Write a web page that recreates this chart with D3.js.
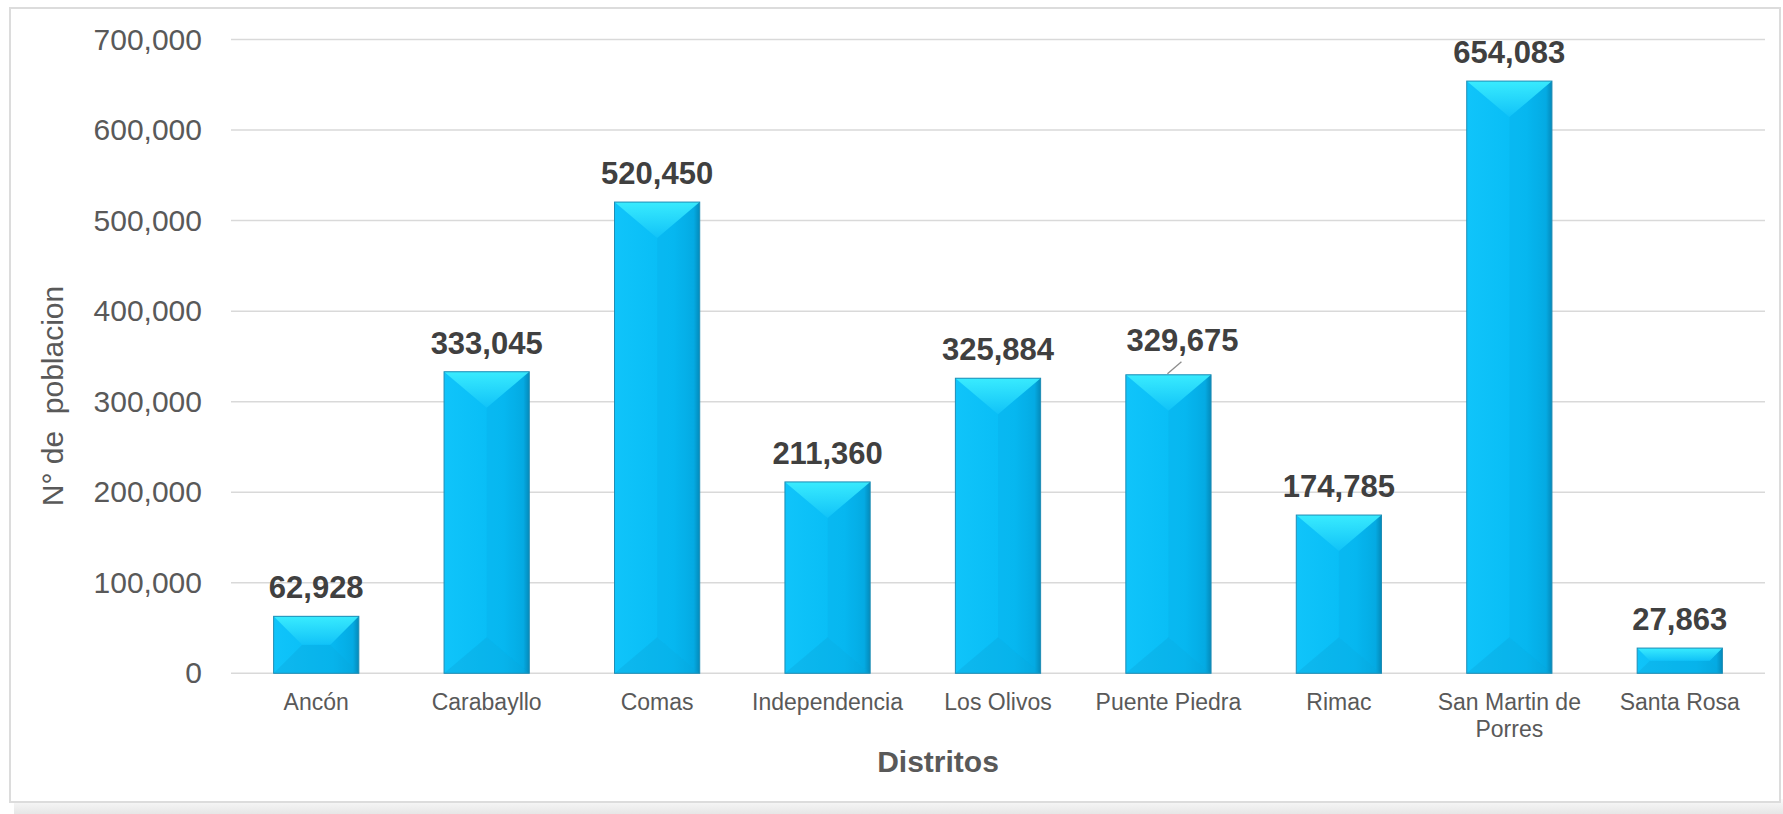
<!DOCTYPE html>
<html lang="es">
<head>
    <meta charset="UTF-8">
    <title>Poblacion por distrito</title>
    <script src="https://cdnjs.cloudflare.com/ajax/libs/d3/7.8.5/d3.min.js"></script>
    <style>
        body { margin: 0; background: #fff; }
        text { font-family: "Liberation Sans", Arial, sans-serif; }
    </style>
</head>
<body>
    <svg width="1783" height="814"></svg>
    <script>
        "use strict";

        const distritos = ["Ancón", "Carabayllo", "Comas", "Independencia", "Los Olivos",
            "Puente Piedra", "Rimac", "San Martin de Porres", "Santa Rosa"];
        const poblacion = [62928, 333045, 520450, 211360, 325884, 329675, 174785, 654083, 27863];
        const yTicks = [0, 100000, 200000, 300000, 400000, 500000, 600000, 700000];

        const svg = d3.select("svg");
        const plotLeft = 231, plotRight = 1765, plotTop = 39.5, plotBottom = 673.3;

        const data = distritos.map((d, i) => ({ name: d, value: poblacion[i] }));

        const x = d3.scaleBand().domain(distritos).range([plotLeft, plotRight])
            .paddingInner(0.5).paddingOuter(0.25);
        const y = d3.scaleLinear().domain([0, 700000]).range([plotBottom, plotTop]);

        // frame + soft shadow at the bottom
        const defs = svg.append("defs");
        const sh = defs.append("linearGradient").attr("id", "shadow")
            .attr("x1", 0).attr("y1", 0).attr("x2", 0).attr("y2", 1);
        sh.append("stop").attr("offset", 0).attr("stop-color", "#fafafa");
        sh.append("stop").attr("offset", 1).attr("stop-color", "#e6e6e6");
        svg.append("rect").attr("x", 14).attr("y", 799).attr("width", 1769).attr("height", 15)
            .attr("fill", "url(#shadow)");
        svg.append("rect").attr("x", 10).attr("y", 8).attr("width", 1770).attr("height", 794)
            .attr("fill", "#fff").attr("stroke", "#dcdcdc").attr("stroke-width", 2);

        // gradients for the bevelled bars
        const gMain = defs.append("linearGradient").attr("id", "main")
            .attr("x1", 0).attr("y1", 0).attr("x2", 1).attr("y2", 0);
        gMain.append("stop").attr("offset", 0).attr("stop-color", "#10c4fa");
        gMain.append("stop").attr("offset", 0.7).attr("stop-color", "#06bcf5");
        gMain.append("stop").attr("offset", 0.93).attr("stop-color", "#04aee6");
        gMain.append("stop").attr("offset", 1).attr("stop-color", "#0489b8");
        const gTop = defs.append("linearGradient").attr("id", "topface")
            .attr("x1", 0).attr("y1", 0).attr("x2", 0).attr("y2", 1);
        gTop.append("stop").attr("offset", 0).attr("stop-color", "#3ef0ff");
        gTop.append("stop").attr("offset", 1).attr("stop-color", "#12c3f8");

        // grid
        svg.append("g").selectAll("line").data(yTicks).join("line")
            .attr("x1", plotLeft).attr("x2", plotRight)
            .attr("y1", d => y(d)).attr("y2", d => y(d))
            .attr("stroke", "#d9d9d9").attr("stroke-width", 1.5);

        // y axis labels
        const yAxis = svg.append("g").attr("transform", `translate(${plotLeft - 29},0)`)
            .call(d3.axisLeft(y).tickValues(yTicks).tickFormat(d3.format(",")).tickSize(0).tickPadding(0));
        yAxis.select(".domain").remove();
        yAxis.selectAll("text").attr("fill", "#595959").style("font-size", "30px")
            .style("font-family", "'Liberation Sans', Arial, sans-serif");

        // bars
        const bars = svg.append("g").selectAll("g").data(data).join("g");
        bars.each(function (d) {
            const g = d3.select(this);
            const x0 = x(d.name), w = x.bandwidth(), x1 = x0 + w;
            const y0 = y(d.value), yb = y(0), h = yb - y0;
            const dv = Math.min(h / 2, 36);
            const dh = h / 2 >= 36 ? w / 2 : dv;
            const pts = p => p.map(q => q.join(",")).join(" ");
            g.append("rect").attr("x", x0).attr("y", y0).attr("width", w).attr("height", h)
                .attr("fill", "url(#main)");
            g.append("polygon").attr("points", pts([[x1, y0], [x1 - dh, y0 + dv], [x1 - dh, yb - dv], [x1, yb]]))
                .attr("fill", "#0596cc").attr("opacity", 0.12);
            g.append("polygon").attr("points", pts([[x0, yb], [x1, yb], [x1 - dh, yb - dv], [x0 + dh, yb - dv]]))
                .attr("fill", "#0a9fd4").attr("opacity", 0.3);
            g.append("polygon").attr("points", pts([[x0, y0], [x1, y0], [x1 - dh, y0 + dv], [x0 + dh, y0 + dv]]))
                .attr("fill", "url(#topface)").attr("opacity", 0.9);
            g.append("rect").attr("x", x0).attr("y", y0).attr("width", w).attr("height", h)
                .attr("fill", "none").attr("stroke", "#1f8db5").attr("stroke-width", 1);
        });

        // value labels (Puente Piedra is lifted with a leader line)
        const fmt = d3.format(",");
        const lifted = "Puente Piedra";
        const pp = data.find(d => d.name === lifted);
        const ppx = x(pp.name) + x.bandwidth() / 2;
        svg.append("line")
            .attr("x1", ppx - 1).attr("y1", y(pp.value) - 1)
            .attr("x2", ppx + 13).attr("y2", y(pp.value) - 13)
            .attr("stroke", "#8c8c8c").attr("stroke-width", 1.3);
        svg.append("g").selectAll("text").data(data).join("text")
            .attr("x", d => x(d.name) + x.bandwidth() / 2 + (d.name === lifted ? 14 : 0))
            .attr("y", d => y(d.value) - (d.name === lifted ? 24 : 18))
            .attr("text-anchor", "middle")
            .attr("fill", "#404040")
            .style("font-size", "31px").style("font-weight", "bold")
            .text(d => fmt(d.value));

        // category labels
        const xAxis = svg.append("g").attr("transform", `translate(0,${plotBottom})`)
            .call(d3.axisBottom(x).tickSize(0).tickPadding(0));
        xAxis.select(".domain").remove();
        xAxis.selectAll("text")
            .attr("fill", "#595959").attr("y", 0).attr("dy", null)
            .style("font-size", "23px")
            .style("font-family", "'Liberation Sans', Arial, sans-serif")
            .each(function (d) { wrap(d3.select(this), d, x.step() - 8); });

        function wrap(t, label, width) {
            const words = label.split(" ");
            const lines = [];
            let line = [];
            t.text(null);
            const probe = t.append("tspan");
            words.forEach(wd => {
                line.push(wd);
                probe.text(line.join(" "));
                if (probe.node().getComputedTextLength() > width && line.length > 1) {
                    line.pop();
                    lines.push(line.join(" "));
                    line = [wd];
                }
            });
            lines.push(line.join(" "));
            probe.remove();
            lines.forEach((ln, i) => {
                t.append("tspan").attr("x", 0).attr("y", 37 + i * 27).text(ln);
            });
        }

        // axis titles
        svg.append("text").attr("x", 938).attr("y", 772).attr("text-anchor", "middle")
            .attr("fill", "#595959").style("font-size", "30px").style("font-weight", "bold")
            .text("Distritos");
        svg.append("text").attr("transform", "translate(63,396) rotate(-90)")
            .attr("text-anchor", "middle").attr("fill", "#595959").style("font-size", "30px")
            .style("white-space", "pre").attr("xml:space", "preserve")
            .text("N° de  poblacion");
    </script>
</body>
</html>
